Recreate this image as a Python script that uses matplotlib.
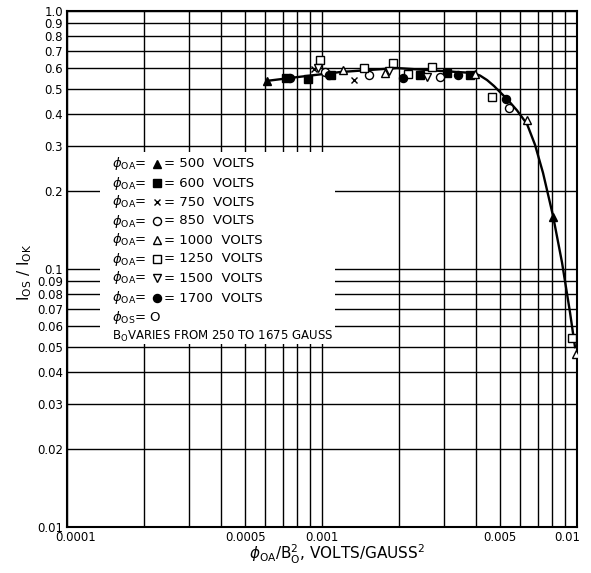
import matplotlib
matplotlib.use("Agg")
import matplotlib.pyplot as plt
from matplotlib.patches import Rectangle
from matplotlib.ticker import FixedLocator, NullFormatter, NullLocator
import matplotlib.transforms as mtransforms

# Measured points, one series per anode voltage
x_500 = [0.000608, 0.00805]
y_500 = [0.535, 0.159]
x_600 = [0.000723, 0.000881, 0.001085, 0.002424, 0.00309, 0.003805]
y_600 = [0.550, 0.545, 0.565, 0.565, 0.575, 0.565]
x_750 = [0.000930, 0.001335]
y_750 = [0.596, 0.540]
x_850 = [0.001027, 0.001529, 0.002902, 0.00539]
y_850 = [0.580, 0.565, 0.555, 0.421]
x_1000 = [0.001209, 0.001766, 0.003981, 0.006366, 0.009908]
y_1000 = [0.591, 0.575, 0.570, 0.378, 0.0468]
x_1250 = [0.000982, 0.001461, 0.001898, 0.002175, 0.0027, 0.004642, 0.009559]
y_1250 = [0.646, 0.601, 0.629, 0.570, 0.607, 0.464, 0.054]
x_1500 = [0.000964, 0.001831, 0.002581]
y_1500 = [0.601, 0.586, 0.555]
x_1700 = [0.000749, 0.001065, 0.002078, 0.003415, 0.005268]
y_1700 = [0.550, 0.565, 0.550, 0.565, 0.456]

# Faired curve through the data
curve_x = [0.000608, 0.00082, 0.00118, 0.00197, 0.0029, 0.00391, 0.004167,
           0.004438, 0.004727, 0.004989, 0.005315, 0.005816, 0.006366,
           0.006845, 0.007356, 0.00805, 0.008734, 0.009386, 0.009822]
curve_y = [0.536, 0.556, 0.580, 0.601, 0.586, 0.575, 0.562,
           0.540, 0.512, 0.485, 0.456, 0.412, 0.365,
           0.303, 0.236, 0.161, 0.106, 0.068, 0.0498]

voltages = ["500", "600", "750", "850", "1000", "1250", "1500", "1700"]
x_ticks = [0.0001, 0.0005, 0.001, 0.005, 0.01]
x_ticklabels = ["0.0001", "0.0005", "0.001", "0.005", "0.01"]
y_ticks = [1.0, 0.9, 0.8, 0.7, 0.6, 0.5, 0.4, 0.3, 0.2, 0.1,
           0.09, 0.08, 0.07, 0.06, 0.05, 0.04, 0.03, 0.02, 0.01]
y_ticklabels = ["1.0", "0.9", "0.8", "0.7", "0.6", "0.5", "0.4", "0.3", "0.2", "0.1",
                "0.09", "0.08", "0.07", "0.06", "0.05", "0.04", "0.03", "0.02", "0.01"]

W, H = 591, 573
fig = plt.figure(figsize=(W / 100, H / 100), dpi=100)
fig.patch.set_facecolor("white")

def fpx(x, y):
    """pixel position (from top-left) to figure fraction"""
    return x / W, 1 - y / H

L, R, T, B = 67, 577, 11, 527
ax = fig.add_axes([L / W, 1 - B / H, (R - L) / W, (B - T) / H])
ax.set_xscale("log")
ax.set_yscale("log")
ax.set_xlim(0.0001, 0.01)
ax.set_ylim(0.01, 1.0)

# grid: every log subdivision
grid_x = [m * 10.0 ** e for e in (-4, -3) for m in range(1, 10)] + [0.01]
grid_y = [m * 10.0 ** e for e in (-2, -1) for m in range(1, 10)] + [1.0]
for gx in grid_x:
    ax.axvline(gx, color="black", lw=1.0, zorder=1)
for gy in grid_y:
    ax.axhline(gy, color="black", lw=1.0, zorder=1)

for s in ax.spines.values():
    s.set_linewidth(1.5)
    s.set_color("black")

ax.xaxis.set_major_locator(FixedLocator(x_ticks))
ax.xaxis.set_minor_locator(NullLocator())
ax.xaxis.set_minor_formatter(NullFormatter())
ax.set_xticklabels(x_ticklabels, fontsize=8.5)
ax.yaxis.set_major_locator(FixedLocator(y_ticks))
ax.yaxis.set_minor_locator(NullLocator())
ax.yaxis.set_minor_formatter(NullFormatter())
ax.set_yticklabels(y_ticklabels, fontsize=8.5)
ax.tick_params(axis="both", length=0, pad=3)

xl = ax.get_xticklabels()
xl[0].set_transform(xl[0].get_transform() + mtransforms.ScaledTranslation(9 / 100, 0, fig.dpi_scale_trans))
xl[-1].set_transform(xl[-1].get_transform() + mtransforms.ScaledTranslation(-10 / 100, 0, fig.dpi_scale_trans))

# white panel carrying the key
bx0, by0 = fpx(100, 344)
bx1, by1 = fpx(335, 152)
ax.add_patch(Rectangle((bx0, by0), bx1 - bx0, by1 - by0, transform=fig.transFigure,
                       facecolor="white", edgecolor="none", zorder=2))

ax.plot(curve_x, curve_y, color="black", lw=1.7, zorder=3)

ms = 5.8
style = dict(color="black", linestyle="none", zorder=4)
ax.plot(x_500, y_500, marker="^", ms=ms, mfc="black", **style)
ax.plot(x_600, y_600, marker="s", ms=ms - 0.5, mfc="black", **style)
ax.plot(x_750, y_750, marker="x", ms=ms - 1, mew=1.0, **style)
ax.plot(x_850, y_850, marker="o", ms=ms, mfc="white", mew=1.0, **style)
ax.plot(x_1000, y_1000, marker="^", ms=ms, mfc="white", mew=1.0, **style)
ax.plot(x_1250, y_1250, marker="s", ms=ms, mfc="white", mew=1.0, **style)
ax.plot(x_1500, y_1500, marker="v", ms=ms, mfc="white", mew=1.0, **style)
ax.plot(x_1700, y_1700, marker="o", ms=ms, mfc="black", **style)

# key
key_markers = [("^", "black"), ("s", "black"), ("x", None), ("o", "white"),
               ("^", "white"), ("s", "white"), ("v", "white"), ("o", "black")]
row_y = [164, 183, 202, 221, 240, 259, 278, 298]
fs = 9.5
for v, (mk, fc), ry in zip(voltages, key_markers, row_y):
    fig.text(*fpx(112, ry), r"$\phi_{\mathrm{OA}}$=", fontsize=fs, va="center", ha="left")
    mx, my = fpx(157, ry)
    kw = dict(marker=mk, ms=ms, color="black", transform=fig.transFigure,
              linestyle="none", clip_on=False, zorder=5)
    if fc is not None:
        kw["mfc"] = fc
    if mk == "x":
        kw["ms"] = ms - 1
    ax.plot([mx], [my], **kw)
    fig.text(*fpx(164, ry), "= " + v + "  VOLTS", fontsize=fs, va="center", ha="left")
fig.text(*fpx(112, 317), r"$\phi_{\mathrm{OS}}$= O", fontsize=fs, va="center", ha="left")
fig.text(*fpx(112, 336), r"B$_{\mathrm{O}}$VARIES FROM 250 TO 1675 GAUSS", fontsize=fs - 1,
         va="center", ha="left")

ax.set_xlabel(r"$\phi_{\mathrm{OA}}$/B$_{\mathrm{O}}^{2}$, VOLTS/GAUSS$^{2}$", fontsize=11)
ax.xaxis.set_label_coords((337 - L) / (R - L), (B - 543) / (B - T))
ax.set_ylabel(r"I$_{\mathrm{OS}}$ / I$_{\mathrm{OK}}$", fontsize=11)
ax.yaxis.set_label_coords((34 - L) / (R - L), (B - 272) / (B - T))

fig.savefig("out.png", dpi=100, facecolor="white")
